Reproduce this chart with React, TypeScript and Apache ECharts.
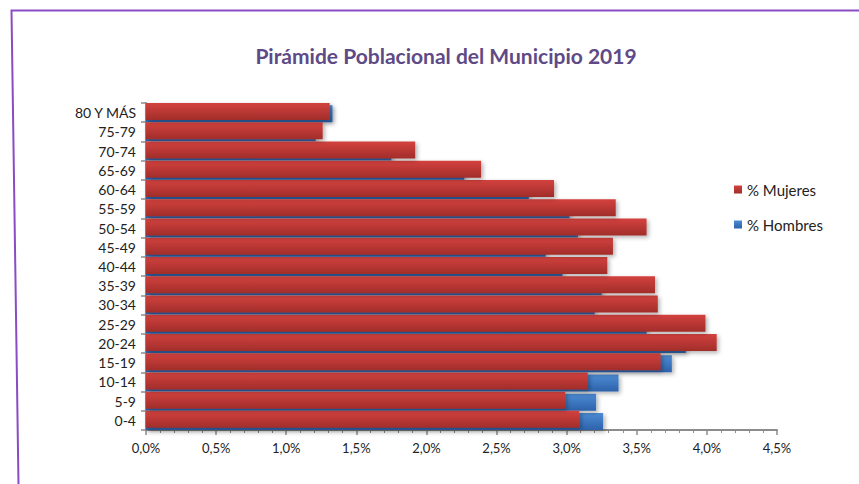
import React, { useEffect, useRef } from "react";
import * as echarts from "echarts";

const categories = ["0-4", "5-9", "10-14", "15-19", "20-24", "25-29", "30-34", "35-39", "40-44", "45-49", "50-54", "55-59", "60-64", "65-69", "70-74", "75-79", "80 Y MÁS"];
const hombres = [3.26, 3.21, 3.37, 3.75, 3.85, 3.57, 3.20, 3.25, 2.97, 2.85, 3.08, 3.02, 2.73, 2.27, 1.75, 1.21, 1.33];
const mujeres = [3.09, 2.99, 3.15, 3.67, 4.07, 3.99, 3.65, 3.63, 3.29, 3.33, 3.57, 3.35, 2.91, 2.39, 1.92, 1.26, 1.31];
const xTicks = { min: 0, max: 4.5, interval: 0.5 };

export default function App() {
  const ref = useRef<HTMLDivElement>(null);
  useEffect(() => {
    const chart = echarts.init(ref.current!, undefined, { renderer: "svg" });
    const font = "Lato, 'Open Sans', sans-serif";
    chart.setOption({
      animation: false,
      backgroundColor: "#ffffff",
      textStyle: { fontFamily: font },
      title: {
        text: "Pirámide Poblacional del Municipio 2019",
        left: 441,
        top: 40,
        textAlign: "center",
        textStyle: { fontFamily: font, fontWeight: "bold", fontSize: 21, color: "#5e4a86" },
      },
      legend: {
        data: ["% Mujeres", "% Hombres"],
        orient: "vertical",
        left: 729,
        top: 177,
        itemWidth: 8,
        itemHeight: 8,
        itemGap: 20,
        icon: "rect",
        textStyle: { fontFamily: font, fontSize: 15, color: "#222" },
      },
      grid: { left: 146, right: 82, top: 103, bottom: 54, containLabel: false },
      xAxis: {
        type: "value",
        min: xTicks.min,
        max: xTicks.max,
        interval: xTicks.interval,
        axisLine: { show: true, lineStyle: { color: "#8c8c8c", width: 2 } },
        axisTick: { show: true, length: 5, lineStyle: { color: "#8c8c8c", width: 1.5 } },
        minorTick: { show: true, splitNumber: 5, length: 3, lineStyle: { color: "#8c8c8c", width: 1 } },
        splitLine: { show: false },
        axisLabel: {
          color: "#222",
          fontSize: 13,
          fontFamily: font,
          margin: 11,
          formatter: (v: number) => v.toFixed(1).replace(".", ",") + "%",
        },
      },
      yAxis: {
        type: "category",
        data: categories,
        axisLine: { show: true, lineStyle: { color: "#8c8c8c", width: 2 } },
        axisTick: { show: true, length: 5, lineStyle: { color: "#8c8c8c", width: 1.5 } },
        axisLabel: { color: "#222", fontSize: 14, fontFamily: font, margin: 10 },
      },
      series: [
        {
          name: "% Mujeres",
          type: "bar",
          data: mujeres,
          barWidth: 17,
          z: 3,
          itemStyle: {
            color: new echarts.graphic.LinearGradient(0, 0, 0, 1, [
              { offset: 0, color: "#d3423e" },
              { offset: 1, color: "#a12d2a" },
            ]),
            shadowColor: "rgba(0,0,0,0.3)",
            shadowBlur: 4,
            shadowOffsetX: 2,
            shadowOffsetY: 2,
          },
        },
        {
          name: "% Hombres",
          type: "bar",
          data: hombres,
          barWidth: 17,
          barGap: "-88%",
          z: 2,
          itemStyle: {
            color: new echarts.graphic.LinearGradient(0, 0, 0, 1, [
              { offset: 0, color: "#4d8cd4" },
              { offset: 1, color: "#2d62ab" },
            ]),
            shadowColor: "rgba(0,0,0,0.3)",
            shadowBlur: 4,
            shadowOffsetX: 2,
            shadowOffsetY: 2,
          },
        },
      ],
      graphic: [
        {
          type: "polyline",
          shape: { points: [[859, 10.5], [11.5, 10.5], [18.5, 484]] },
          style: { stroke: "#8a4cc4", lineWidth: 2, fill: null },
          silent: true,
        },
      ],
    });
    return () => chart.dispose();
  }, []);
  return <div ref={ref} style={{ width: 859, height: 484, position: "absolute", left: 0, top: 0 }} />;
}
